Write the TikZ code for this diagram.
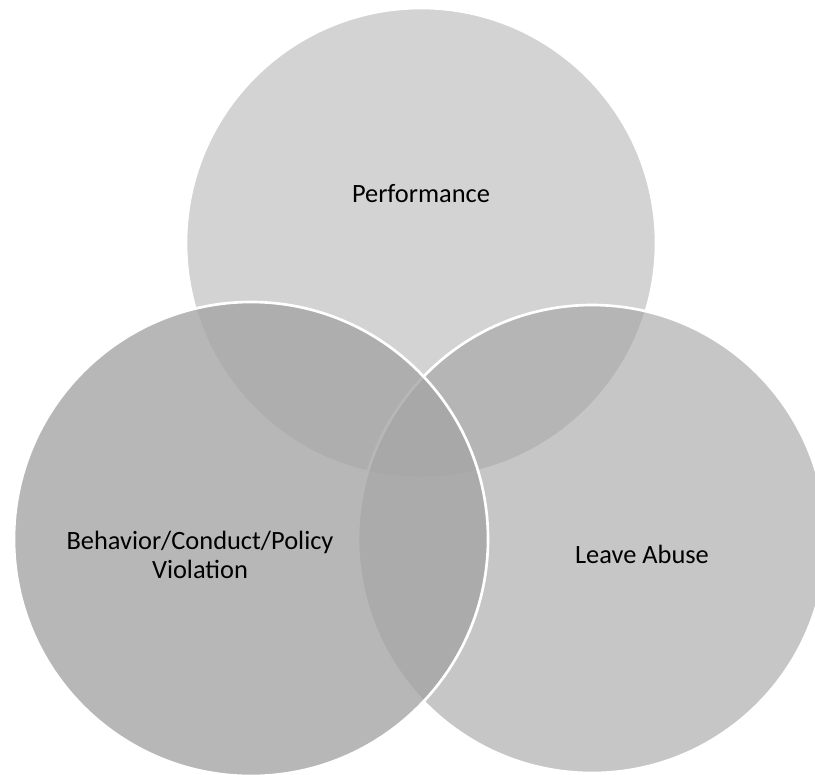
\documentclass[tikz,border=0pt]{standalone}
\usepackage{fontspec}
\setmainfont{Carlito}
\usetikzlibrary{positioning}

\definecolor{perfgray}{gray}{0.827}
\definecolor{leavegray}{gray}{0.635}
\definecolor{behavgray}{gray}{0.647}

\begin{document}
\begin{tikzpicture}[
          x = 0.75pt, y = -0.75pt,
          venn/.style = {circle, draw=white, line width=2pt, inner sep=0pt},
          venntext/.style = {align=center, text=black, font=\fontsize{19.8}{21.4}\selectfont},
        ]

        \useasboundingbox (0,0) rectangle (815,775);
        \clip (0,0) rectangle (815,775);

        % Circles
        \node[venn, fill=perfgray, minimum size=352.5pt] (perf) at (421,243) {};
        \node[venn, fill=leavegray, fill opacity=0.61, minimum size=351pt] (leave) at (592,539) {};
        \node[venn, fill=behavgray, fill opacity=0.8, minimum size=355.5pt] (behav) at (251,539) {};

        % Labels
        \node[venntext] (perftext) at (421,194) {Performance};
        \node[venntext] (behavtext) at (200,555) {Behavior/Conduct/Policy\\Violation};
        \node[venntext] (leavetext) at (642,554) {Leave Abuse};

      \end{tikzpicture}
\end{document}
